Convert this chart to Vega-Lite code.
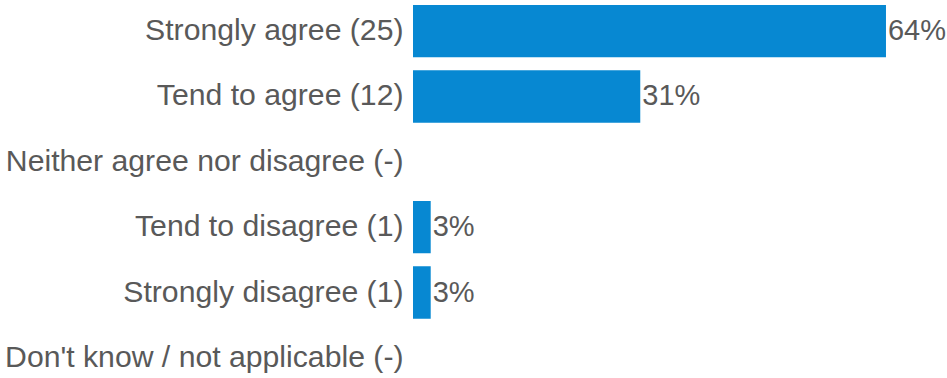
{
  "$schema": "https://vega.github.io/schema/vega-lite/v6.json",
  "autosize": "none",
  "padding": {"left": 413, "top": 0, "right": 0, "bottom": 0},
  "width": 534,
  "height": 389,
  "background": "white",
  "config": {"view": {"stroke": null}, "font": "Liberation Sans"},
  "data": {"values": [
    {"response": "Strongly agree (25)", "pct": 64.1, "label": "64%"},
    {"response": "Tend to agree (12)", "pct": 30.8, "label": "31%"},
    {"response": "Neither agree nor disagree (-)", "pct": null, "label": ""},
    {"response": "Tend to disagree (1)", "pct": 2.4, "label": "3%"},
    {"response": "Strongly disagree (1)", "pct": 2.4, "label": "3%"},
    {"response": "Don't know / not applicable (-)", "pct": null, "label": ""}
  ]},
  "encoding": {
    "y": {"field": "response", "type": "nominal", "sort": null,
      "scale": {"paddingInner": 0.2, "paddingOuter": 0.077,
        "domain": ["Strongly agree (25)", "Tend to agree (12)", "Neither agree nor disagree (-)", "Tend to disagree (1)", "Strongly disagree (1)", "Don't know / not applicable (-)"]},
      "axis": {"title": null, "domain": false, "ticks": false, "labelFontSize": 30.2, "labelColor": "#595959", "labelPadding": 10, "labelLimit": 500, "labelFont": "Liberation Sans"}},
    "x": {"field": "pct", "type": "quantitative", "scale": {"domain": [0, 72.37], "nice": false}, "axis": null}
  },
  "layer": [
    {"mark": {"type": "bar", "color": "#0788d2"}},
    {"mark": {"type": "text", "align": "left", "baseline": "middle", "dx": 2, "fontSize": 29, "color": "#595959", "font": "Liberation Sans"},
      "encoding": {"text": {"field": "label"}}}
  ]
}
